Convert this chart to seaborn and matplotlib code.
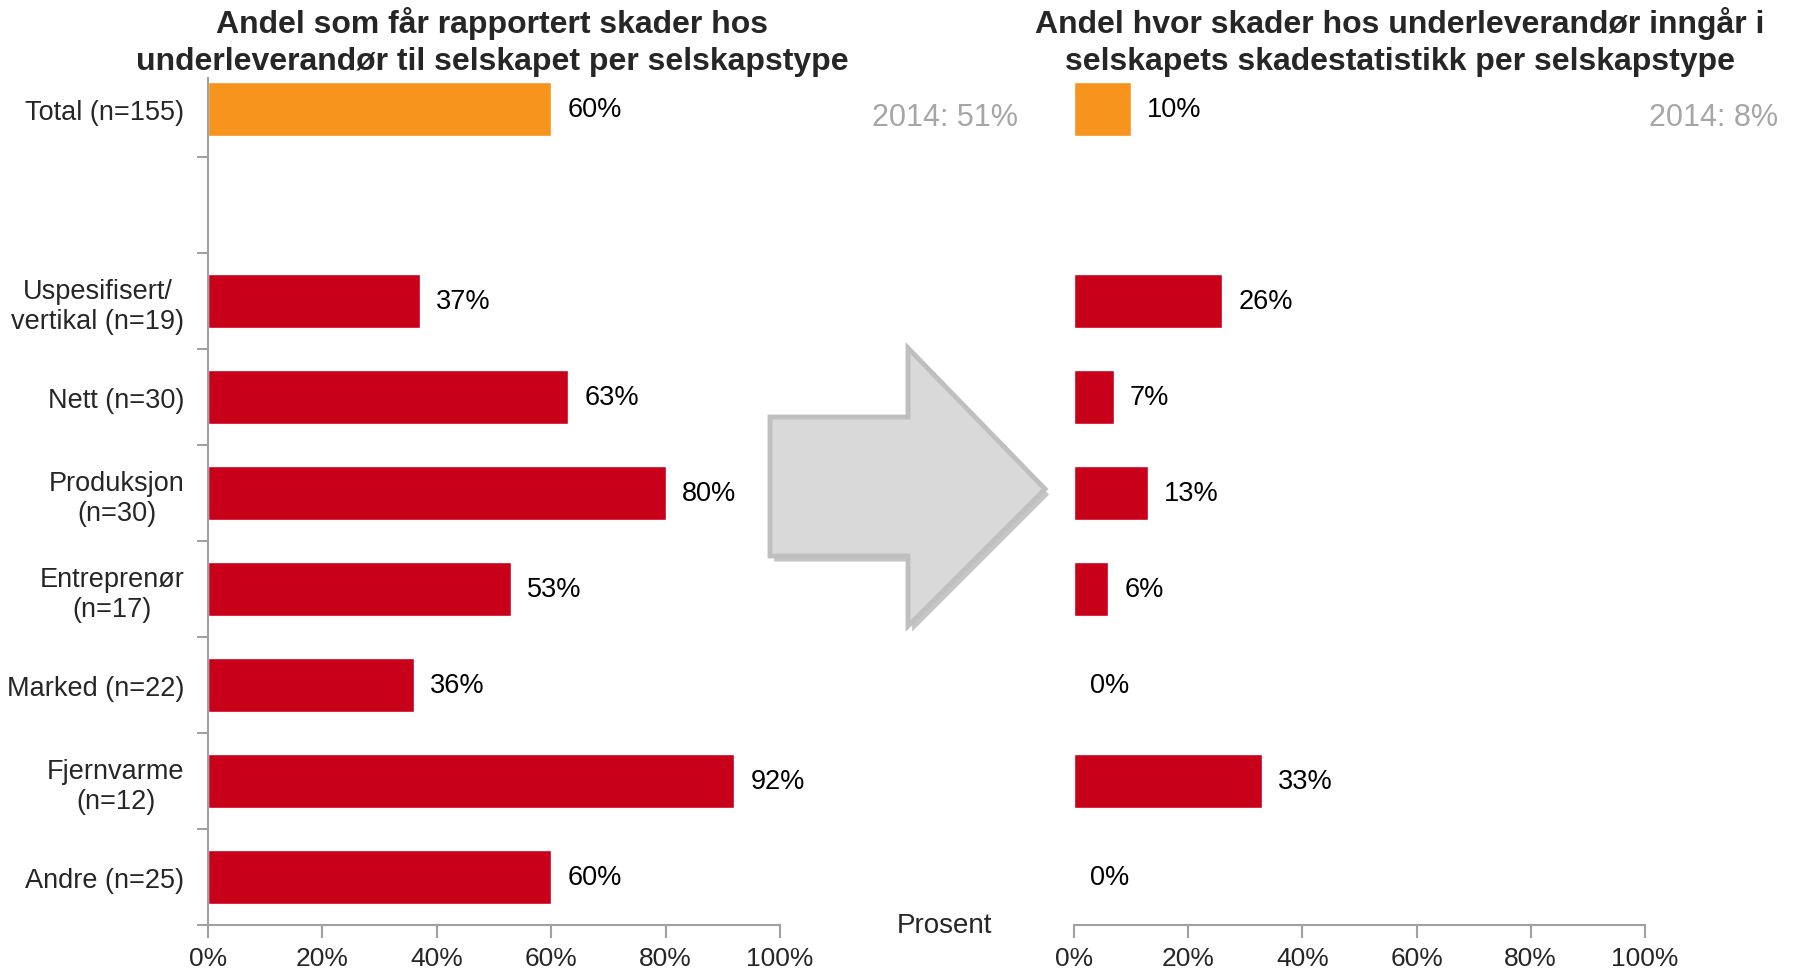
import numpy as np
import pandas as pd
import matplotlib
matplotlib.use("Agg")
import matplotlib.pyplot as plt
import seaborn as sns
from matplotlib.patches import Polygon
import matplotlib.patheffects as pe

# ===================== DATA =====================
kategorier = ["Total (n=155)", " ", "Uspesifisert/\nvertikal (n=19)", "Nett (n=30)",
              "Produksjon\n(n=30)", "Entreprenør\n(n=17)", "Marked (n=22)",
              "Fjernvarme\n(n=12)", "Andre (n=25)"]
andel_rapportert = [60, np.nan, 37, 63, 80, 53, 36, 92, 60]
andel_statistikk = [10, np.nan, 26, 7, 13, 6, 0, 33, 0]
x_ticks = [0, 20, 40, 60, 80, 100]
tittel_venstre = "Andel som får rapportert skader hos\nunderleverandør til selskapet per selskapstype"
tittel_hoyre = "Andel hvor skader hos underleverandør inngår i\nselskapets skadestatistikk per selskapstype"
ref_2014 = ["2014: 51%", "2014: 8%"]

ORANGE = "#F7941E"
RED = "#C8001A"
AXIS = "#A0A0A0"
palett = {k: (ORANGE if i == 0 else RED) for i, k in enumerate(kategorier)}

sns.set_theme(style="white")
plt.rcParams['font.family'] = ['Liberation Sans', 'DejaVu Sans']

fig = plt.figure(figsize=(17.95, 9.7), dpi=100)
ax1 = fig.add_axes([0.1159, 0.04536, 0.3187, 0.8907])
ax2 = fig.add_axes([0.5983, 0.04536, 0.3181, 0.8907])

for ax, verdier, tittel, ref, ref_x in [
        (ax1, andel_rapportert, tittel_venstre, ref_2014[0], 1018 / 1795),
        (ax2, andel_statistikk, tittel_hoyre, ref_2014[1], 1778 / 1795)]:
    df = pd.DataFrame({"kat": kategorier, "verdi": verdier})
    sns.barplot(data=df, x="verdi", y="kat", hue="kat", order=kategorier,
                palette=palett, legend=False, width=0.57, ax=ax, saturation=1)
    ax.set_xlim(0, 100)
    ax.set_ylim(8.5, -0.5)
    ax.set_xlabel("")
    ax.set_ylabel("")
    ax.set_xticks(x_ticks)
    ax.set_xticklabels([f"{t}%" for t in x_ticks], fontsize=19)
    ax.tick_params(axis="x", length=9, width=1.5, color=AXIS, bottom=True, pad=6)
    for s in ["top", "right"]:
        ax.spines[s].set_visible(False)
    ax.spines["bottom"].set_color(AXIS)
    ax.spines["bottom"].set_linewidth(1.5)
    for i, v in enumerate(verdier):
        if not np.isnan(v):
            ax.text(v + 2.8, i, f"{v:.0f}%", va="center", ha="left", fontsize=19.5, color="black")
    fig.text(ref_x, 1 - 118 / 970, ref, ha="right", va="center", fontsize=22, color="#A6A6A6")

# venstre akse: kategorier og skillestreker
ax1.spines["left"].set_color(AXIS)
ax1.spines["left"].set_linewidth(1.5)
ax1.set_yticks(range(len(kategorier)))
ax1.set_yticklabels(kategorier, fontsize=19.5, multialignment="center")
ax1.tick_params(axis="y", which="major", length=0, pad=17)
ax1.set_yticks(np.arange(0.5, len(kategorier), 1), minor=True)
ax1.tick_params(axis="y", which="minor", length=8, width=1.5, color=AXIS, left=True)

# høyre akse: uten y-akse
ax2.spines["left"].set_visible(False)
ax2.set_yticks([])

fig.text(492 / 1795, 1 - 42 / 970, tittel_venstre, ha="center", va="center",
         fontsize=23, fontweight="bold", linespacing=1.3,
         bbox=dict(facecolor="white", edgecolor="none", pad=1))
fig.text(1400 / 1795, 1 - 42 / 970, tittel_hoyre, ha="center", va="center",
         fontsize=23, fontweight="bold", linespacing=1.3)
fig.text(944 / 1795, 1 - 926 / 970, "Prosent", ha="center", va="center", fontsize=20)

# pil mellom diagrammene
pil_px = [(770, 418), (908, 418), (908, 349), (1045, 490), (908, 627), (908, 557), (770, 557)]
pil = [(x / 1795, 1 - y / 970) for x, y in pil_px]
fig.patches.append(Polygon(pil, closed=True, transform=fig.transFigure,
                           facecolor="#D9D9D9", edgecolor="#BFBFBF", linewidth=3.5,
                           path_effects=[pe.SimplePatchShadow(offset=(3, -4), alpha=0.3), pe.Normal()]))

fig.savefig("out.png", dpi=100)
